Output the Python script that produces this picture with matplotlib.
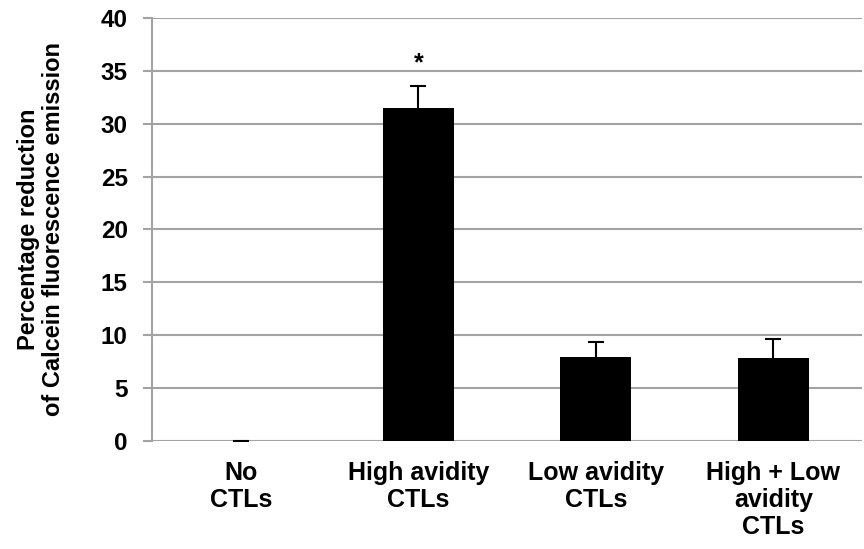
import numpy as np
import matplotlib.pyplot as plt

plt.rcParams['font.family'] = ['Liberation Sans', 'DejaVu Sans']
plt.rcParams['font.weight'] = 'bold'

# data
categories = ['No\nCTLs', 'High avidity\nCTLs', 'Low avidity\nCTLs', 'High + Low\navidity\nCTLs']
means = [0.0, 31.5, 7.95, 7.86]
errors = [0.0, 2.1, 1.43, 1.8]
significant = [False, True, False, False]

fig = plt.figure(figsize=(8.64, 5.49), dpi=100)
ax = fig.add_axes([0.176, 0.197, 0.822, 0.770])

x = np.arange(len(categories))
ax.bar(x, means, width=0.4, color='black', zorder=3)
eb = ax.errorbar(x, means, yerr=[np.zeros(len(errors)), errors], fmt='none',
                 ecolor='black', elinewidth=1.5, capsize=6, capthick=1.5, zorder=4)
# only the upper whisker is shown
eb[1][0].set_visible(False)

# significance marker above the bar
for xi, m, e, s in zip(x, means, errors, significant):
    if s:
        ax.text(xi, m + e + 1.0, '*', ha='center', va='bottom', fontsize=18, fontweight='bold')

ax.set_xlim(-0.5, len(categories) - 0.5)
ax.set_ylim(0, 40)
ax.set_yticks(np.arange(0, 41, 5))
ax.yaxis.grid(True, color='#a3a3a3', linewidth=1.5, zorder=0)
ax.set_axisbelow(True)

for side in ['top', 'right', 'bottom']:
    ax.spines[side].set_visible(False)
ax.spines['left'].set_color('#a3a3a3')
ax.spines['left'].set_linewidth(1.5)
ax.tick_params(axis='y', colors='black', length=6.5, width=1.5, color='#a3a3a3', pad=11, labelsize=17.5)
ax.tick_params(axis='x', length=0, pad=14.5, labelsize=18)

ax.set_xticks(x)
ax.set_xticklabels(categories, fontweight='bold', linespacing=1.15)
for lbl in ax.get_yticklabels():
    lbl.set_fontweight('bold')

ax.set_ylabel('Percentage reduction\nof Calcein fluorescence emission', fontsize=17,
              fontweight='bold', linespacing=1.15)
ax.yaxis.set_label_coords(-0.122, 0.5)

plt.savefig('out.png', dpi=100)
